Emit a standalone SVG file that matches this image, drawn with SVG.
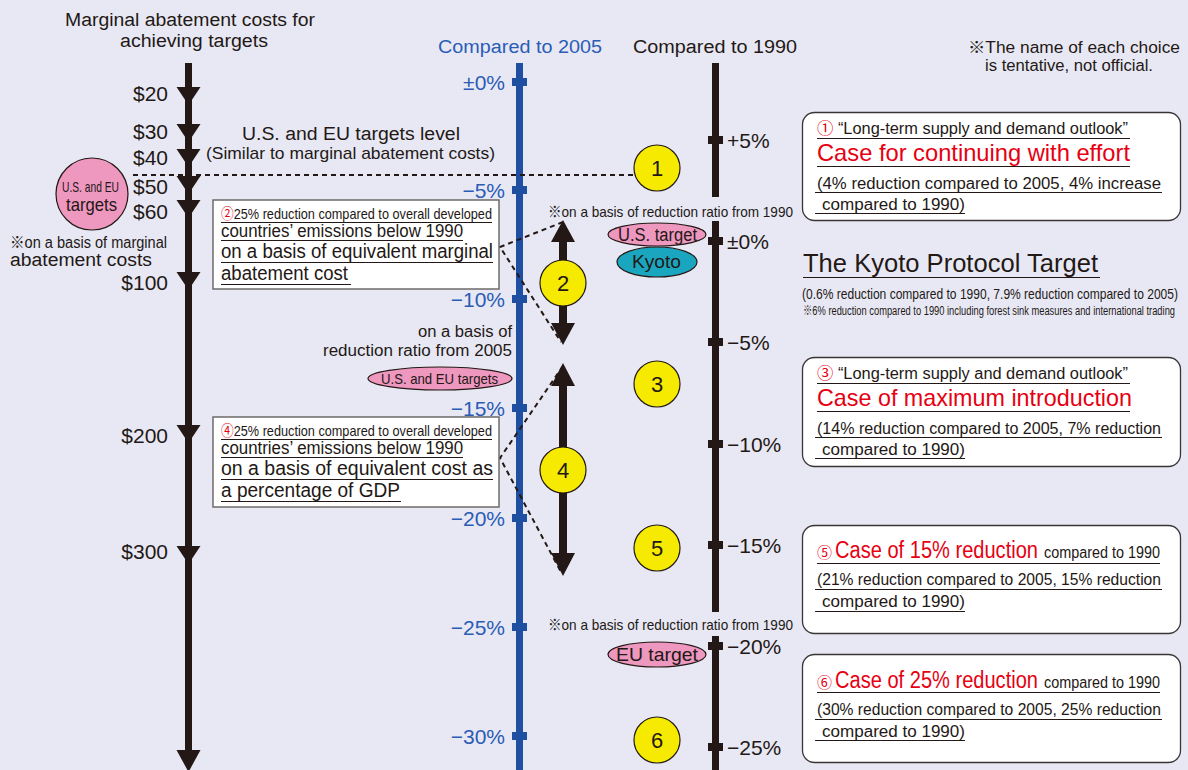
<svg xmlns="http://www.w3.org/2000/svg" width="1188" height="770" viewBox="0 0 1188 770">
<style>
.t{font-family:"Liberation Sans","Noto Sans CJK JP",sans-serif;fill:#231815}
.b{fill:#2a5cb4}
.r{fill:#e60012}
.ul{stroke:#231815;stroke-width:1}
.box{fill:#fff;stroke:#6e6a6a;stroke-width:1.5}
.rbox{fill:#fff;stroke:#3a3434;stroke-width:1.3}
.yc{fill:#f5ea00;stroke:#231815;stroke-width:1.2}
.pk{fill:#ee97bf;stroke:#231815;stroke-width:1.2}
.dash{stroke:#231815;stroke-width:2;stroke-dasharray:5 4;fill:none}
.tick{fill:#231815}
.btick{fill:#1f4fa0}
</style>
<defs>
<path id="tri" d="M-12,0 L12,0 L0,18 Z" fill="#231815"/>
<rect id="tk" x="-7.5" y="-4" width="15" height="8"/>
</defs>
<rect width="1188" height="770" fill="#e8e8f4"/>

<!-- left axis -->
<g id="cost-axis">
<rect x="185" y="63" width="7" height="700" fill="#231815"/>
<use href="#tri" x="188.5" y="87"/>
<use href="#tri" x="188.5" y="124"/>
<use href="#tri" x="188.5" y="149"/>
<use href="#tri" x="188.5" y="176"/>
<use href="#tri" x="188.5" y="200"/>
<use href="#tri" x="188.5" y="272"/>
<use href="#tri" x="188.5" y="425"/>
<use href="#tri" x="188.5" y="546"/>
<path d="M176.5,750 L200.5,750 L188.5,772 Z" fill="#231815"/>
<g class="t" font-size="21" text-anchor="end">
<text x="168" y="101">$20</text>
<text x="168" y="139">$30</text>
<text x="168" y="165">$40</text>
<text x="168" y="194">$50</text>
<text x="168" y="219">$60</text>
<text x="168" y="290">$100</text>
<text x="168" y="443">$200</text>
<text x="168" y="559">$300</text>
</g>
<text class="t" x="65" y="26" font-size="18" textLength="250" lengthAdjust="spacingAndGlyphs">Marginal abatement costs for</text>
<text class="t" x="120" y="47" font-size="18" textLength="148" lengthAdjust="spacingAndGlyphs">achieving targets</text>
<text class="t" x="10" y="248" font-size="16" textLength="157" lengthAdjust="spacingAndGlyphs">※on a basis of marginal</text>
<text class="t" x="10" y="266" font-size="18" textLength="142" lengthAdjust="spacingAndGlyphs">abatement costs</text>
</g>

<g id="us-eu-circle">
<circle class="pk" cx="92" cy="194" r="36"/>
<text class="t" x="62" y="192" font-size="15" textLength="57" lengthAdjust="spacingAndGlyphs">U.S. and EU</text>
<text class="t" x="66" y="211" font-size="19" textLength="51" lengthAdjust="spacingAndGlyphs">targets</text>
</g>

<g id="us-eu-level">
<text class="t" x="242" y="140" font-size="18" textLength="218" lengthAdjust="spacingAndGlyphs">U.S. and EU targets level</text>
<text class="t" x="206" y="159" font-size="17" textLength="289" lengthAdjust="spacingAndGlyphs">(Similar to marginal abatement costs)</text>
</g>

<!-- blue axis -->
<g id="axis-2005">
<text class="t b" x="438" y="53" font-size="18" textLength="164" lengthAdjust="spacingAndGlyphs">Compared to 2005</text>
<rect x="516" y="63" width="7" height="707" fill="#1f4fa0"/>
<g class="btick">
<use href="#tk" x="519.5" y="82"/>
<use href="#tk" x="519.5" y="190"/>
<use href="#tk" x="519.5" y="299"/>
<use href="#tk" x="519.5" y="408"/>
<use href="#tk" x="519.5" y="518"/>
<use href="#tk" x="519.5" y="627"/>
<use href="#tk" x="519.5" y="736"/>
</g>
<g class="t b" font-size="21" text-anchor="end">
<text x="505" y="90">±0%</text>
<text x="505" y="198">−5%</text>
<text x="505" y="307">−10%</text>
<text x="505" y="416">−15%</text>
<text x="505" y="526">−20%</text>
<text x="505" y="635">−25%</text>
<text x="505" y="744">−30%</text>
</g>
</g>

<!-- black 1990 axis -->
<g id="axis-1990">
<text class="t" x="633" y="53" font-size="18" textLength="164" lengthAdjust="spacingAndGlyphs">Compared to 1990</text>
<rect x="712" y="63" width="7" height="134" fill="#231815"/>
<rect x="712" y="221" width="7" height="391" fill="#231815"/>
<rect x="712" y="636" width="7" height="134" fill="#231815"/>
<g class="tick">
<use href="#tk" x="715.5" y="140"/>
<use href="#tk" x="715.5" y="241"/>
<use href="#tk" x="715.5" y="342"/>
<use href="#tk" x="715.5" y="444"/>
<use href="#tk" x="715.5" y="545"/>
<use href="#tk" x="715.5" y="646"/>
<use href="#tk" x="715.5" y="747"/>
</g>
<g class="t" font-size="21">
<text x="727" y="148">+5%</text>
<text x="727" y="249">±0%</text>
<text x="727" y="350">−5%</text>
<text x="727" y="452">−10%</text>
<text x="727" y="553">−15%</text>
<text x="727" y="654">−20%</text>
<text x="727" y="755">−25%</text>
</g>
</g>

<text class="t" x="968" y="53" font-size="16" textLength="212" lengthAdjust="spacingAndGlyphs">※The name of each choice</text>
<text class="t" x="985" y="71" font-size="16" textLength="168" lengthAdjust="spacingAndGlyphs">is tentative, not official.</text>

<!-- connectors -->
<g id="connectors">
<line class="dash" x1="133" y1="175" x2="633" y2="175"/>
<polyline class="dash" points="563,222 500,247 561,342"/>
<polyline class="dash" points="563,366 500,458 561,572"/>
<path d="M559,238 h8 v90 h-8 Z" fill="#231815"/>
<path d="M563,220 L575,242 L551,242 Z M563,345 L575,323 L551,323 Z" fill="#231815"/>
<path d="M559,382 h8 v176 h-8 Z" fill="#231815"/>
<path d="M563,363 L575,386 L551,386 Z M563,576 L575,553 L551,553 Z" fill="#231815"/>
</g>

<!-- yellow choices -->
<g id="choice-1"><circle class="yc" cx="657" cy="168" r="23"/><text class="t" x="657" y="176" font-size="22" text-anchor="middle">1</text></g>
<g id="choice-2"><circle class="yc" cx="563" cy="283" r="23"/><text class="t" x="563" y="291" font-size="22" text-anchor="middle">2</text></g>
<g id="choice-3"><circle class="yc" cx="657" cy="384" r="23"/><text class="t" x="657" y="392" font-size="22" text-anchor="middle">3</text></g>
<g id="choice-4"><circle class="yc" cx="563" cy="470" r="23"/><text class="t" x="563" y="478" font-size="22" text-anchor="middle">4</text></g>
<g id="choice-5"><circle class="yc" cx="657" cy="548" r="23"/><text class="t" x="657" y="556" font-size="22" text-anchor="middle">5</text></g>
<g id="choice-6"><circle class="yc" cx="657" cy="740" r="23"/><text class="t" x="657" y="748" font-size="22" text-anchor="middle">6</text></g>

<!-- middle labels -->
<g id="basis-2005">
<text class="t" x="512" y="337" font-size="16" text-anchor="end" textLength="94" lengthAdjust="spacingAndGlyphs">on a basis of</text>
<text class="t" x="512" y="356" font-size="16" text-anchor="end" textLength="189" lengthAdjust="spacingAndGlyphs">reduction ratio from 2005</text>
</g>
<g id="us-eu-ellipse">
<ellipse class="pk" cx="440" cy="378.5" rx="72" ry="11.5"/>
<text class="t" x="381" y="384" font-size="15" textLength="117" lengthAdjust="spacingAndGlyphs">U.S. and EU targets</text>
</g>
<text class="t" x="548" y="217" font-size="15" textLength="245" lengthAdjust="spacingAndGlyphs">※on a basis of reduction ratio from 1990</text>
<text class="t" x="548" y="630" font-size="15" textLength="245" lengthAdjust="spacingAndGlyphs">※on a basis of reduction ratio from 1990</text>
<g id="us-target">
<ellipse class="pk" cx="657" cy="234.5" rx="49" ry="11.5"/>
<text class="t" x="618" y="241" font-size="18" textLength="79" lengthAdjust="spacingAndGlyphs">U.S. target</text>
</g>
<g id="kyoto">
<ellipse cx="657" cy="262" rx="40" ry="15" fill="#1ba6c0" stroke="#231815" stroke-width="1.2"/>
<text class="t" x="632" y="268" font-size="19" textLength="49" lengthAdjust="spacingAndGlyphs">Kyoto</text>
</g>
<g id="eu-target">
<ellipse class="pk" cx="657" cy="654.5" rx="49" ry="12.5"/>
<text class="t" x="616" y="661" font-size="19" textLength="82" lengthAdjust="spacingAndGlyphs">EU target</text>
</g>

<!-- box 2 -->
<g id="box-2">
<rect class="box" x="213" y="200" width="286" height="89"/>
<text class="t" x="221" y="219" font-size="15" textLength="271" lengthAdjust="spacingAndGlyphs"><tspan class="r">②</tspan>25% reduction compared to overall developed</text>
<line class="ul" x1="221" y1="222.5" x2="492" y2="222.5"/>
<text class="t" x="221" y="237" font-size="18" textLength="242" lengthAdjust="spacingAndGlyphs">countries’ emissions below 1990</text>
<line class="ul" x1="221" y1="240.5" x2="463" y2="240.5"/>
<text class="t" x="221" y="258" font-size="20" textLength="272" lengthAdjust="spacingAndGlyphs">on a basis of equivalent marginal</text>
<line class="ul" x1="221" y1="262.5" x2="493" y2="262.5"/>
<text class="t" x="221" y="280" font-size="20" textLength="127" lengthAdjust="spacingAndGlyphs">abatement cost</text>
<line class="ul" x1="221" y1="284.5" x2="351" y2="284.5"/>
</g>

<!-- box 4 -->
<g id="box-4">
<rect class="box" x="213" y="417" width="286" height="90"/>
<text class="t" x="221" y="436" font-size="15" textLength="271" lengthAdjust="spacingAndGlyphs"><tspan class="r">④</tspan>25% reduction compared to overall developed</text>
<line class="ul" x1="221" y1="439.5" x2="492" y2="439.5"/>
<text class="t" x="221" y="454" font-size="18" textLength="242" lengthAdjust="spacingAndGlyphs">countries’ emissions below 1990</text>
<line class="ul" x1="221" y1="457.5" x2="463" y2="457.5"/>
<text class="t" x="221" y="475" font-size="20" textLength="272" lengthAdjust="spacingAndGlyphs">on a basis of equivalent cost as</text>
<line class="ul" x1="221" y1="479.5" x2="493" y2="479.5"/>
<text class="t" x="221" y="497" font-size="20" textLength="179" lengthAdjust="spacingAndGlyphs">a percentage of GDP</text>
<line class="ul" x1="221" y1="501.5" x2="401" y2="501.5"/>
</g>

<!-- right box 1 -->
<g id="case-1">
<rect class="rbox" x="802.5" y="112.5" width="378" height="108" rx="12"/>
<text class="t" x="817" y="134" font-size="16" textLength="311" lengthAdjust="spacingAndGlyphs"><tspan class="r">①</tspan> “Long-term supply and demand outlook”</text>
<line class="ul" x1="817" y1="138.5" x2="1130" y2="138.5"/>
<text class="t r" x="817" y="161" font-size="24" textLength="313" lengthAdjust="spacingAndGlyphs">Case for continuing with effort</text>
<line class="ul" x1="817" y1="166.5" x2="1130" y2="166.5"/>
<text class="t" x="817" y="189" font-size="16" textLength="344" lengthAdjust="spacingAndGlyphs">(4% reduction compared to 2005, 4% increase</text>
<line class="ul" x1="815" y1="192.5" x2="1162" y2="192.5"/>
<text class="t" x="822" y="210" font-size="16" textLength="143" lengthAdjust="spacingAndGlyphs">compared to 1990)</text>
<line class="ul" x1="815" y1="213.5" x2="965" y2="213.5"/>
</g>

<g id="kyoto-target">
<text class="t" x="803" y="272" font-size="26" textLength="295" lengthAdjust="spacingAndGlyphs">The Kyoto Protocol Target</text>
<line class="ul" x1="803" y1="277.5" x2="1100" y2="277.5"/>
<text class="t" x="802" y="299" font-size="15" textLength="376" lengthAdjust="spacingAndGlyphs">(0.6% reduction compared to 1990, 7.9% reduction compared to 2005)</text>
<text class="t" x="803" y="315" font-size="12" textLength="372" lengthAdjust="spacingAndGlyphs">※6% reduction compared to 1990 including forest sink measures and international trading</text>
</g>

<!-- right box 3 -->
<g id="case-3">
<rect class="rbox" x="802.5" y="357.5" width="378" height="109" rx="12"/>
<text class="t" x="817" y="379" font-size="16" textLength="311" lengthAdjust="spacingAndGlyphs"><tspan class="r">③</tspan> “Long-term supply and demand outlook”</text>
<line class="ul" x1="817" y1="383.5" x2="1130" y2="383.5"/>
<text class="t r" x="817" y="406" font-size="24" textLength="315" lengthAdjust="spacingAndGlyphs">Case of maximum introduction</text>
<line class="ul" x1="817" y1="411.5" x2="1130" y2="411.5"/>
<text class="t" x="817" y="434" font-size="16" textLength="344" lengthAdjust="spacingAndGlyphs">(14% reduction compared to 2005, 7% reduction</text>
<line class="ul" x1="815" y1="437.5" x2="1162" y2="437.5"/>
<text class="t" x="822" y="455" font-size="16" textLength="143" lengthAdjust="spacingAndGlyphs">compared to 1990)</text>
<line class="ul" x1="815" y1="458.5" x2="965" y2="458.5"/>
</g>

<!-- right box 5 -->
<g id="case-5">
<rect class="rbox" x="802.5" y="525.5" width="378" height="108" rx="12"/>
<text class="t r" x="817" y="558" font-size="15">⑤</text>
<text class="t r" x="835" y="558" font-size="23" textLength="203" lengthAdjust="spacingAndGlyphs">Case of 15% reduction</text>
<text class="t" x="1044" y="558" font-size="16" textLength="116" lengthAdjust="spacingAndGlyphs">compared to 1990</text>
<line class="ul" x1="817" y1="563.5" x2="1160" y2="563.5"/>
<text class="t" x="817" y="585" font-size="16" textLength="344" lengthAdjust="spacingAndGlyphs">(21% reduction compared to 2005, 15% reduction</text>
<line class="ul" x1="815" y1="589.5" x2="1162" y2="589.5"/>
<text class="t" x="822" y="607" font-size="16" textLength="143" lengthAdjust="spacingAndGlyphs">compared to 1990)</text>
<line class="ul" x1="815" y1="611.5" x2="965" y2="611.5"/>
</g>

<!-- right box 6 -->
<g id="case-6">
<rect class="rbox" x="802.5" y="654.5" width="378" height="108" rx="12"/>
<text class="t r" x="817" y="688" font-size="15">⑥</text>
<text class="t r" x="835" y="688" font-size="23" textLength="203" lengthAdjust="spacingAndGlyphs">Case of 25% reduction</text>
<text class="t" x="1044" y="688" font-size="16" textLength="116" lengthAdjust="spacingAndGlyphs">compared to 1990</text>
<line class="ul" x1="817" y1="692.5" x2="1160" y2="692.5"/>
<text class="t" x="817" y="715" font-size="16" textLength="344" lengthAdjust="spacingAndGlyphs">(30% reduction compared to 2005, 25% reduction</text>
<line class="ul" x1="815" y1="719.5" x2="1162" y2="719.5"/>
<text class="t" x="822" y="737" font-size="16" textLength="143" lengthAdjust="spacingAndGlyphs">compared to 1990)</text>
<line class="ul" x1="815" y1="740.5" x2="965" y2="740.5"/>
</g>
</svg>
